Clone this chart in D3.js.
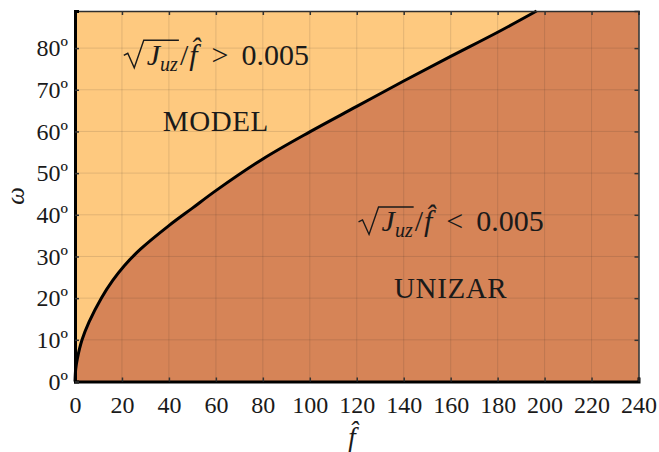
<!DOCTYPE html>
<html>
<head>
<meta charset="utf-8">
<script src="https://cdn.jsdelivr.net/npm/d3@7"></script>
<style>
  body { margin: 0; background: #fff; }
  text { font-family: "Liberation Serif", "DejaVu Serif", serif; fill: #1a1a1a; }
</style>
</head>
<body>
<svg id="chart" width="659" height="452"></svg>
<script>
// boundary curve sqrt(Juz)/f = 0.005
var f_vals = [0, 0.3, 1, 3, 6, 11.2, 16, 21, 28, 40, 50, 60, 80, 100, 120, 140, 160, 180, 196.6];
var omega_vals = [0, 3, 5.5, 10, 14.3, 20, 24.2, 27.8, 31.8, 37.4, 41.6, 45.8, 53.4, 59.9, 66.0, 72.1, 78.0, 83.8, 88.9];

var x_ticks = [0, 20, 40, 60, 80, 100, 120, 140, 160, 180, 200, 220, 240];
var y_ticks = [0, 10, 20, 30, 40, 50, 60, 70, 80];
var x_domain = [0, 240];
var y_domain = [0, 88.9];

var region_names = ['MODEL', 'UNIZAR'];
var region_rel = ['>', '<'];
var name_pos = [[60, 60], [160, 20]];      // (f, omega) of the name
var formula_pos = [[60, 76], [160, 36]];   // (f, omega) of the formula

var width = 659, height = 452;
var margin = {left: 75, right: 20.5, top: 11, bottom: 70.5};

var x_scale = d3.scaleLinear().domain(x_domain).range([margin.left, width - margin.right]);
var y_scale = d3.scaleLinear().domain(y_domain).range([height - margin.bottom, margin.top]);

var svg = d3.select('#chart');

var points = f_vals.map(function(f, i){ return [f, omega_vals[i]]; });

// background (model region)
svg.append('rect')
    .attr('x', x_scale(x_domain[0]))
    .attr('y', y_scale(y_domain[1]))
    .attr('width', x_scale(x_domain[1]) - x_scale(x_domain[0]))
    .attr('height', y_scale(y_domain[0]) - y_scale(y_domain[1]))
    .attr('fill', '#FEC97F');

var line = d3.line()
    .x(function(d){ return x_scale(d[0]); })
    .y(function(d){ return y_scale(d[1]); })
    .curve(d3.curveCatmullRom.alpha(0.5));

// unizar region = under the curve + everything right of its end
var last = points[points.length - 1];
svg.append('path')
    .attr('d', line(points) + 'L' + x_scale(x_domain[1]) + ',' + y_scale(last[1]) +
               'L' + x_scale(x_domain[1]) + ',' + y_scale(y_domain[0]) +
               'L' + x_scale(x_domain[0]) + ',' + y_scale(y_domain[0]) + 'Z')
    .attr('fill', '#D68457');

// grid
var grid = svg.append('g').attr('class', 'grid');
grid.selectAll('line.v').data(x_ticks).enter().append('line')
    .attr('x1', function(d){ return x_scale(d); })
    .attr('x2', function(d){ return x_scale(d); })
    .attr('y1', y_scale(y_domain[0]))
    .attr('y2', y_scale(y_domain[1]))
    .attr('stroke', '#262626').attr('stroke-opacity', 0.13).attr('stroke-width', 1);
grid.selectAll('line.h').data(y_ticks).enter().append('line')
    .attr('y1', function(d){ return y_scale(d); })
    .attr('y2', function(d){ return y_scale(d); })
    .attr('x1', x_scale(x_domain[0]))
    .attr('x2', x_scale(x_domain[1]))
    .attr('stroke', '#262626').attr('stroke-opacity', 0.13).attr('stroke-width', 1);

// boundary line
svg.append('path')
    .attr('d', line(points))
    .attr('fill', 'none')
    .attr('stroke', '#000')
    .attr('stroke-width', 3);

// axes with inward ticks on all four sides
var deg = function(d){ return d + 'º'; };
var x_bottom = d3.axisBottom(x_scale).tickValues(x_ticks).tickSize(-4).tickPadding(14.5);
var y_left = d3.axisLeft(y_scale).tickValues(y_ticks).tickSize(-4).tickPadding(7).tickFormat(deg);
var x_top = d3.axisTop(x_scale).tickValues(x_ticks).tickSize(-4).tickFormat('');
var y_right = d3.axisRight(y_scale).tickValues(y_ticks).tickSize(-4).tickFormat('');

svg.append('g').attr('class', 'x_top').attr('transform', 'translate(0,' + margin.top + ')').call(x_top);
svg.append('g').attr('class', 'y_right').attr('transform', 'translate(' + (width - margin.right) + ',0)').call(y_right);
svg.append('g').attr('class', 'x_axis').attr('transform', 'translate(0,' + (height - margin.bottom) + ')').call(x_bottom);
svg.append('g').attr('class', 'y_axis').attr('transform', 'translate(' + margin.left + ',0)').call(y_left);

svg.selectAll('.x_top .domain, .y_right .domain').attr('stroke', '#2e2e2e').attr('stroke-width', 1.5);
svg.selectAll('.x_axis .domain, .y_axis .domain').attr('stroke', '#000').attr('stroke-width', 3);
svg.selectAll('.tick line').attr('stroke', '#333').attr('stroke-width', 1.5);
svg.selectAll('.tick text').style('font-size', '24px').style('font-family', '"Liberation Serif", serif').attr('fill', '#222');

// axis titles
svg.append('text')
    .attr('transform', 'translate(24,196) rotate(-90)')
    .attr('text-anchor', 'middle')
    .style('font-size', '25px').style('font-style', 'italic')
    .text('ω');
svg.append('text')
    .attr('x', 352).attr('y', 446)
    .attr('text-anchor', 'middle')
    .style('font-size', '27px').style('font-style', 'italic')
    .text('f\u0302');

// region labels
region_names.forEach(function(name, i){
  svg.append('text')
      .attr('x', x_scale(name_pos[i][0])).attr('y', y_scale(name_pos[i][1]))
      .attr('text-anchor', 'middle')
      .style('font-size', '29px').style('letter-spacing', '0.6px')
      .text(name);

  var g = svg.append('g');
  var t = g.append('text').style('font-size', '30px');
  t.append('tspan').attr('dx', 24).style('font-style', 'italic').text('J');
  t.append('tspan').style('font-style', 'italic').style('font-size', '20px').attr('dy', 6).text('uz');
  t.append('tspan').attr('dy', -6).attr('dx', 2).text('/');
  t.append('tspan').attr('dx', 1).style('font-style', 'italic').text('f\u0302');
  t.append('tspan').attr('dx', 14).text(region_rel[i]);
  t.append('tspan').attr('dx', 13).text('0.005');

  var node = t.node();
  var endZ = node.getEndPositionOfChar(2);
  g.append('path')
      .attr('d', 'M1,-9.5L5,-11.5L11.5,3L21,-24.5L' + (endZ.x + 1) + ',-24.5')
      .attr('fill', 'none')
      .attr('stroke', '#1a1a1a').attr('stroke-width', 1.4)
      .attr('stroke-linejoin', 'miter');
  var w = node.getComputedTextLength() + 24 + 2 + 1 + 27;
  g.attr('transform', 'translate(' + (x_scale(formula_pos[i][0]) - w / 2) + ',' + y_scale(formula_pos[i][1]) + ')');
});
</script>
</body>
</html>
